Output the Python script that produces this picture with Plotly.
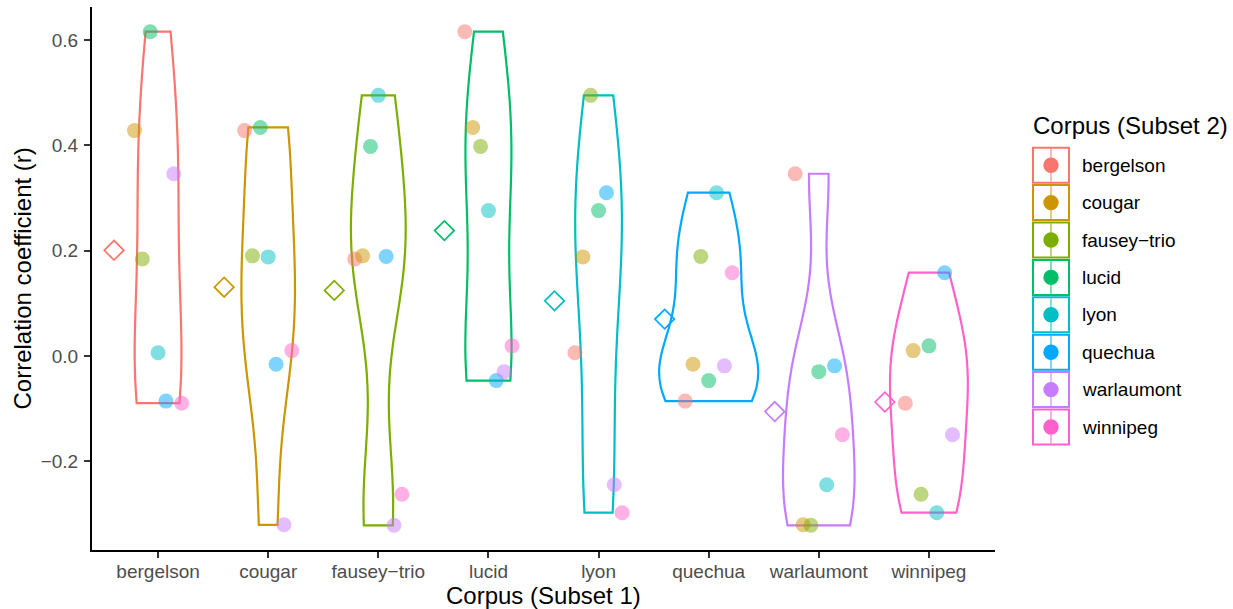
import numpy as np
import plotly.graph_objects as go

# ---------------- data ----------------
corpora = ["bergelson", "cougar", "fausey-trio", "lucid", "lyon", "quechua", "warlaumont", "winnipeg"]
tick_labels = ["bergelson", "cougar", "fausey\u2212trio", "lucid", "lyon", "quechua", "warlaumont", "winnipeg"]
colors = ["#F8766D", "#CD9600", "#7CAE00", "#00BE67", "#00BFC4", "#00A9FF", "#C77CFF", "#FF61CC"]

# correlation of each Subset-1 corpus (row) with each Subset-2 corpus (column order = corpora)
r_bergelson  = [None, 0.428, 0.184, 0.616, 0.006, -0.086, 0.346, -0.090]
r_cougar     = [0.428, None, 0.190, 0.434, 0.188, -0.016, -0.321, 0.010]
r_fausey     = [0.184, 0.190, None, 0.398, 0.495, 0.189, -0.322, -0.263]
r_lucid      = [0.616, 0.434, 0.398, None, 0.276, -0.047, -0.030, 0.019]
r_lyon       = [0.006, 0.188, 0.495, 0.276, None, 0.310, -0.245, -0.298]
r_quechua    = [-0.086, -0.016, 0.189, -0.047, 0.310, None, -0.019, 0.158]
r_warlaumont = [0.346, -0.321, -0.322, -0.030, -0.245, -0.019, None, -0.150]
r_winnipeg   = [-0.090, 0.010, -0.263, 0.019, -0.298, 0.158, -0.150, None]

y_tickvals = [-0.2, 0.0, 0.2, 0.4, 0.6]
y_ticktext = ["\u22120.2", "0.0", "0.2", "0.4", "0.6"]

rows = [r_bergelson, r_cougar, r_fausey, r_lucid, r_lyon, r_quechua, r_warlaumont, r_winnipeg]

# ---------------- layout geometry ----------------
W, H = 1233, 609
L, R, T, B = 92, 238, 7, 59
PW, PH = W - L - R, H - T - B
FONT = "Liberation Sans, Arial, Helvetica, sans-serif"
DODGE = 0.5
NUDGE = -0.4
VWIDTH = 0.9


def px_x(px):
    return (px - L) / PW


def px_y(py):
    return (H - B - py) / PH


def nrd0(v):
    v = np.asarray(v, dtype=float)
    sd = np.std(v, ddof=1)
    q1, q3 = np.percentile(v, [25, 75])
    lo = min(sd, (q3 - q1) / 1.34)
    if lo <= 0:
        lo = sd if sd > 0 else 1.0
    return 0.9 * lo * len(v) ** (-0.2)


def max_kde(v, bw):
    v = np.asarray(v, dtype=float)
    t = np.linspace(v.min(), v.max(), 513)
    d = np.exp(-0.5 * ((t[:, None] - v[None, :]) / bw) ** 2).sum(axis=1)
    return d.max() / (len(v) * bw * np.sqrt(2 * np.pi))


def rgba(hexcol, a):
    h = hexcol.lstrip("#")
    return "rgba(%d,%d,%d,%.3f)" % (int(h[0:2], 16), int(h[2:4], 16), int(h[4:6], 16), a)


fig = go.Figure()

# violins (one per Subset-1 corpus), equal-area scaling like ggplot's scale="area"
groups = [np.array([v for v in row if v is not None]) for row in rows]
bws = [nrd0(g) for g in groups]
peaks = [max_kde(g, b) for g, b in zip(groups, bws)]
peak_all = max(peaks)
for i, vals in enumerate(groups):
    fig.add_trace(go.Violin(
        x=[i + 1] * len(vals), y=vals, orientation="v",
        line=dict(color=colors[i], width=2.2), fillcolor="rgba(0,0,0,0)",
        points=False, spanmode="hard", bandwidth=bws[i],
        scalegroup="g%d" % i, scalemode="width", width=VWIDTH * peaks[i] / peak_all,
        box_visible=False, meanline_visible=False,
        showlegend=False, hoverinfo="skip", name=corpora[i]))

# dodged points coloured by Subset-2 corpus
for k in range(len(corpora)):
    xs, ys = [], []
    for i, row in enumerate(rows):
        v = row[k]
        if v is None:
            continue
        j = k if k < i else k - 1
        xs.append(i + 1 + (j - 3) * DODGE / 7)
        ys.append(v)
    fig.add_trace(go.Scatter(
        x=xs, y=ys, mode="markers",
        marker=dict(size=15, color=colors[k], opacity=0.5, line=dict(width=0)),
        showlegend=False, name=corpora[k]))

# mean diamonds
means = [float(np.mean(g)) for g in groups]
fig.add_trace(go.Scatter(
    x=[i + 1 + NUDGE for i in range(len(rows))], y=means, mode="markers",
    marker=dict(symbol="diamond-open", size=15, color=colors, line=dict(width=1.7)),
    showlegend=False, name="mean"))

all_vals = np.concatenate(groups).tolist()
lo, hi = min(all_vals + means), max(all_vals + means)
pad = 0.05 * (hi - lo)

fig.update_layout(
    width=W, height=H,
    margin=dict(l=L, r=R, t=T, b=B, pad=0),
    paper_bgcolor="white", plot_bgcolor="white",
    font=dict(family=FONT, size=19, color="#000000"),
    violinmode="overlay",
    showlegend=False,
    xaxis=dict(range=[0.4, 8.6], tickvals=list(range(1, 9)), ticktext=tick_labels,
               showgrid=False, zeroline=False, showline=True, linecolor="black", linewidth=2,
               ticks="outside", ticklen=6, tickwidth=2, tickcolor="#333333",
               tickfont=dict(family=FONT, size=19, color="#4D4D4D"), ticklabelstandoff=-3),
    yaxis=dict(range=[lo - pad, hi + pad], tickvals=y_tickvals, ticktext=y_ticktext,
               showgrid=False, zeroline=False, showline=True, linecolor="black", linewidth=2,
               ticks="outside", ticklen=6, tickwidth=2, tickcolor="#333333",
               tickfont=dict(family=FONT, size=19, color="#4D4D4D"), ticklabelstandoff=2),
)

annotations = [
    dict(text="Corpus (Subset 1)", xref="paper", yref="paper", x=0.5, y=px_y(595),
         xanchor="center", yanchor="middle", showarrow=False,
         font=dict(family=FONT, size=24, color="black")),
    dict(text="Correlation coefficient (r)", xref="paper", yref="paper", x=px_x(22), y=0.5,
         xanchor="center", yanchor="middle", textangle=-90, showarrow=False,
         font=dict(family=FONT, size=24, color="black")),
    dict(text="Corpus (Subset 2)", xref="paper", yref="paper", x=px_x(1031), y=px_y(125),
         xanchor="left", yanchor="middle", showarrow=False,
         font=dict(family=FONT, size=24, color="black")),
]

shapes = []
key_cx, key_w, key_h = 1051, 36, 35
for k, name in enumerate(tick_labels):
    cy = 165.2 + 37.4 * k
    ax, ay = px_x(key_cx), px_y(cy)
    common = dict(xref="paper", yref="paper", xsizemode="pixel", ysizemode="pixel",
                  xanchor=ax, yanchor=ay)
    shapes.append(dict(type="rect", x0=-key_w / 2, x1=key_w / 2, y0=-key_h / 2, y1=key_h / 2,
                       line=dict(color=colors[k], width=2), fillcolor="white", **common))
    shapes.append(dict(type="line", x0=0, x1=0, y0=-key_h / 2 + 1, y1=key_h / 2 - 1,
                       line=dict(color=rgba(colors[k], 0.5), width=2), **common))
    shapes.append(dict(type="circle", x0=-7.7, x1=7.7, y0=-7.7, y1=7.7,
                       line=dict(width=0), fillcolor=colors[k], **common))
    annotations.append(dict(text=name, xref="paper", yref="paper", x=px_x(1080), y=ay,
                            xanchor="left", yanchor="middle", showarrow=False,
                            font=dict(family=FONT, size=19, color="black")))

fig.update_layout(annotations=annotations, shapes=shapes)

fig.write_html("out.html", config={"displayModeBar": False},
               post_script="document.body.style.margin='0px';")
